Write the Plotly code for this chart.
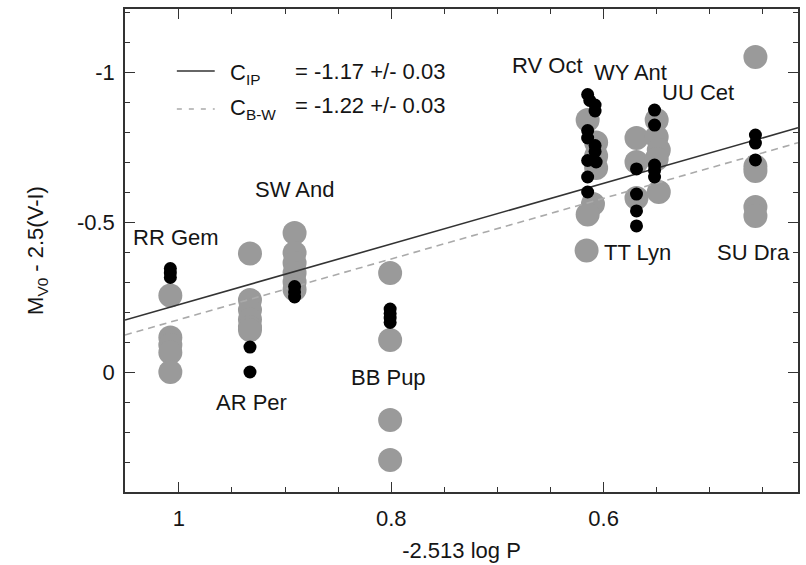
import plotly.graph_objects as go

# ---------------- data ----------------
gray_x = [1.008]*5 + [0.933]*6 + [0.891]*6 + [0.801]*4 + \
         [0.615, 0.607, 0.607, 0.607, 0.610, 0.615, 0.616] + \
         [0.569, 0.569, 0.569] + [0.550, 0.550, 0.548, 0.550, 0.548] + \
         [0.457]*5
gray_y = [-0.255, -0.115, -0.09, -0.065, 0.0,
          -0.395, -0.24, -0.207, -0.175, -0.15, -0.14,
          -0.463, -0.397, -0.363, -0.33, -0.30, -0.275,
          -0.33, -0.107, 0.16, 0.293,
          -0.84, -0.765, -0.72, -0.68, -0.56, -0.525, -0.405,
          -0.78, -0.70, -0.58,
          -0.84, -0.783, -0.74, -0.71, -0.60,
          -1.05, -0.685, -0.67, -0.55, -0.52]

black_x = [1.008]*3 + [0.933]*2 + [0.891]*3 + [0.801]*4 + \
          [0.615, 0.613, 0.608, 0.608, 0.615, 0.615, 0.608, 0.608, 0.615, 0.607, 0.615, 0.615] + \
          [0.569]*4 + [0.552]*5 + [0.457]*3
black_y = [-0.345, -0.33, -0.315,
           -0.083, 0.0,
           -0.285, -0.267, -0.25,
           -0.21, -0.195, -0.18, -0.165,
           -0.925, -0.905, -0.89, -0.87, -0.805, -0.78, -0.755, -0.735, -0.705, -0.70, -0.65, -0.60,
           -0.677, -0.593, -0.537, -0.487,
           -0.873, -0.823, -0.69, -0.672, -0.65,
           -0.79, -0.763, -0.707]

star_names = ["RR Gem", "AR Per", "SW And", "BB Pup", "RV Oct", "WY Ant", "UU Cet", "TT Lyn", "SU Dra"]
label_x = [1.003, 0.932, 0.891, 0.803, 0.653, 0.575, 0.511, 0.568, 0.459]
label_y = [-0.45, 0.103, -0.607, 0.017, -1.023, -1.0, -0.933, -0.397, -0.397]

fit_x = [1.0507, 0.4169]
cip_y = [-0.1733, -0.8141]
cbw_y = [-0.1233, -0.7641]

legend_texts = [("C<sub>IP</sub>", "= -1.17 +/- 0.03"),
                ("C<sub>B-W</sub>", "= -1.22 +/- 0.03")]

xticks = [1, 0.8, 0.6]
yticks = [-1, -0.5, 0]

FONT = "Liberation Sans, Arial, Helvetica, sans-serif"
FS = 22
TXT = "#151515"

fig = go.Figure()
fig.add_trace(go.Scatter(x=gray_x, y=gray_y, mode="markers",
                         marker=dict(size=24, color="#9a9a9a", line=dict(width=0)),
                         showlegend=False, hoverinfo="skip"))
fig.add_trace(go.Scatter(x=fit_x, y=cip_y, mode="lines",
                         line=dict(color="#333333", width=1.6), showlegend=False))
fig.add_trace(go.Scatter(x=fit_x, y=cbw_y, mode="lines",
                         line=dict(color="#aaaaaa", width=1.6, dash="7px,5px"), showlegend=False))
fig.add_trace(go.Scatter(x=black_x, y=black_y, mode="markers",
                         marker=dict(size=13, color="#000000", line=dict(width=0)),
                         showlegend=False, hoverinfo="skip"))

for name, lx, ly in zip(star_names, label_x, label_y):
    fig.add_annotation(x=lx, y=ly, text=name, showarrow=False,
                       font=dict(family=FONT, size=FS, color=TXT),
                       xanchor="center", yanchor="middle")

# legend (manual)
L, R, T, B = 125, 800, 9, 492
def px2paper(px, py):
    return (px - L) / (R - L), 1 - (py - T) / (B - T)

leg_line_y = [71, 109]
leg_text_y = [71, 106]
styles = [dict(color="#333333", width=1.6), dict(color="#aaaaaa", width=1.6, dash="5px,7px")]
for (csym, val), ply, pty, st in zip(legend_texts, leg_line_y, leg_text_y, styles):
    x0, y0 = px2paper(177, ply)
    x1, _ = px2paper(215, ply)
    fig.add_shape(type="line", xref="paper", yref="paper", x0=x0, x1=x1, y0=y0, y1=y0, line=st)
    xa, ya = px2paper(228, pty + 3)
    fig.add_annotation(xref="paper", yref="paper", x=xa, y=ya, text=csym, showarrow=False,
                       xanchor="left", yanchor="middle",
                       font=dict(family=FONT, size=FS, color=TXT))
    xb, yb = px2paper(293, pty)
    fig.add_annotation(xref="paper", yref="paper", x=xb, y=yb, text=val, showarrow=False,
                       xanchor="left", yanchor="middle",
                       font=dict(family=FONT, size=FS, color=TXT))

axis_common = dict(showline=True, linecolor="#333333", linewidth=1.5, mirror="allticks",
                   ticks="inside", tickcolor="#333333", tickwidth=1.2, showgrid=False,
                   zeroline=False, tickfont=dict(family=FONT, size=FS, color=TXT))

fig.update_xaxes(range=[1.0507, 0.4169], tickvals=xticks, ticktext=[str(v) for v in xticks],
                 ticklen=10, ticklabelstandoff=6,
                 minor=dict(dtick=0.05, tick0=0, ticks="inside", ticklen=5, tickcolor="#333333", showgrid=False),
                 title=dict(text="-2.513 log P", font=dict(family=FONT, size=FS, color=TXT), standoff=12),
                 **axis_common)
fig.update_yaxes(range=[0.40, -1.21], tickvals=yticks, ticktext=["-1", "-0.5", "0"],
                 ticklen=10, ticklabelstandoff=4,
                 minor=dict(dtick=0.1, tick0=0, ticks="inside", ticklen=5, tickcolor="#333333", showgrid=False),
                 title=dict(text="M<sub>V0</sub> - 2.5(V-I)", font=dict(family=FONT, size=FS, color=TXT), standoff=27),
                 **axis_common)

fig.update_layout(width=806, height=565, margin=dict(l=125, r=6, t=9, b=73),
                  paper_bgcolor="white", plot_bgcolor="white",
                  font=dict(family=FONT, size=FS, color=TXT))

fig.write_html("out.html")
